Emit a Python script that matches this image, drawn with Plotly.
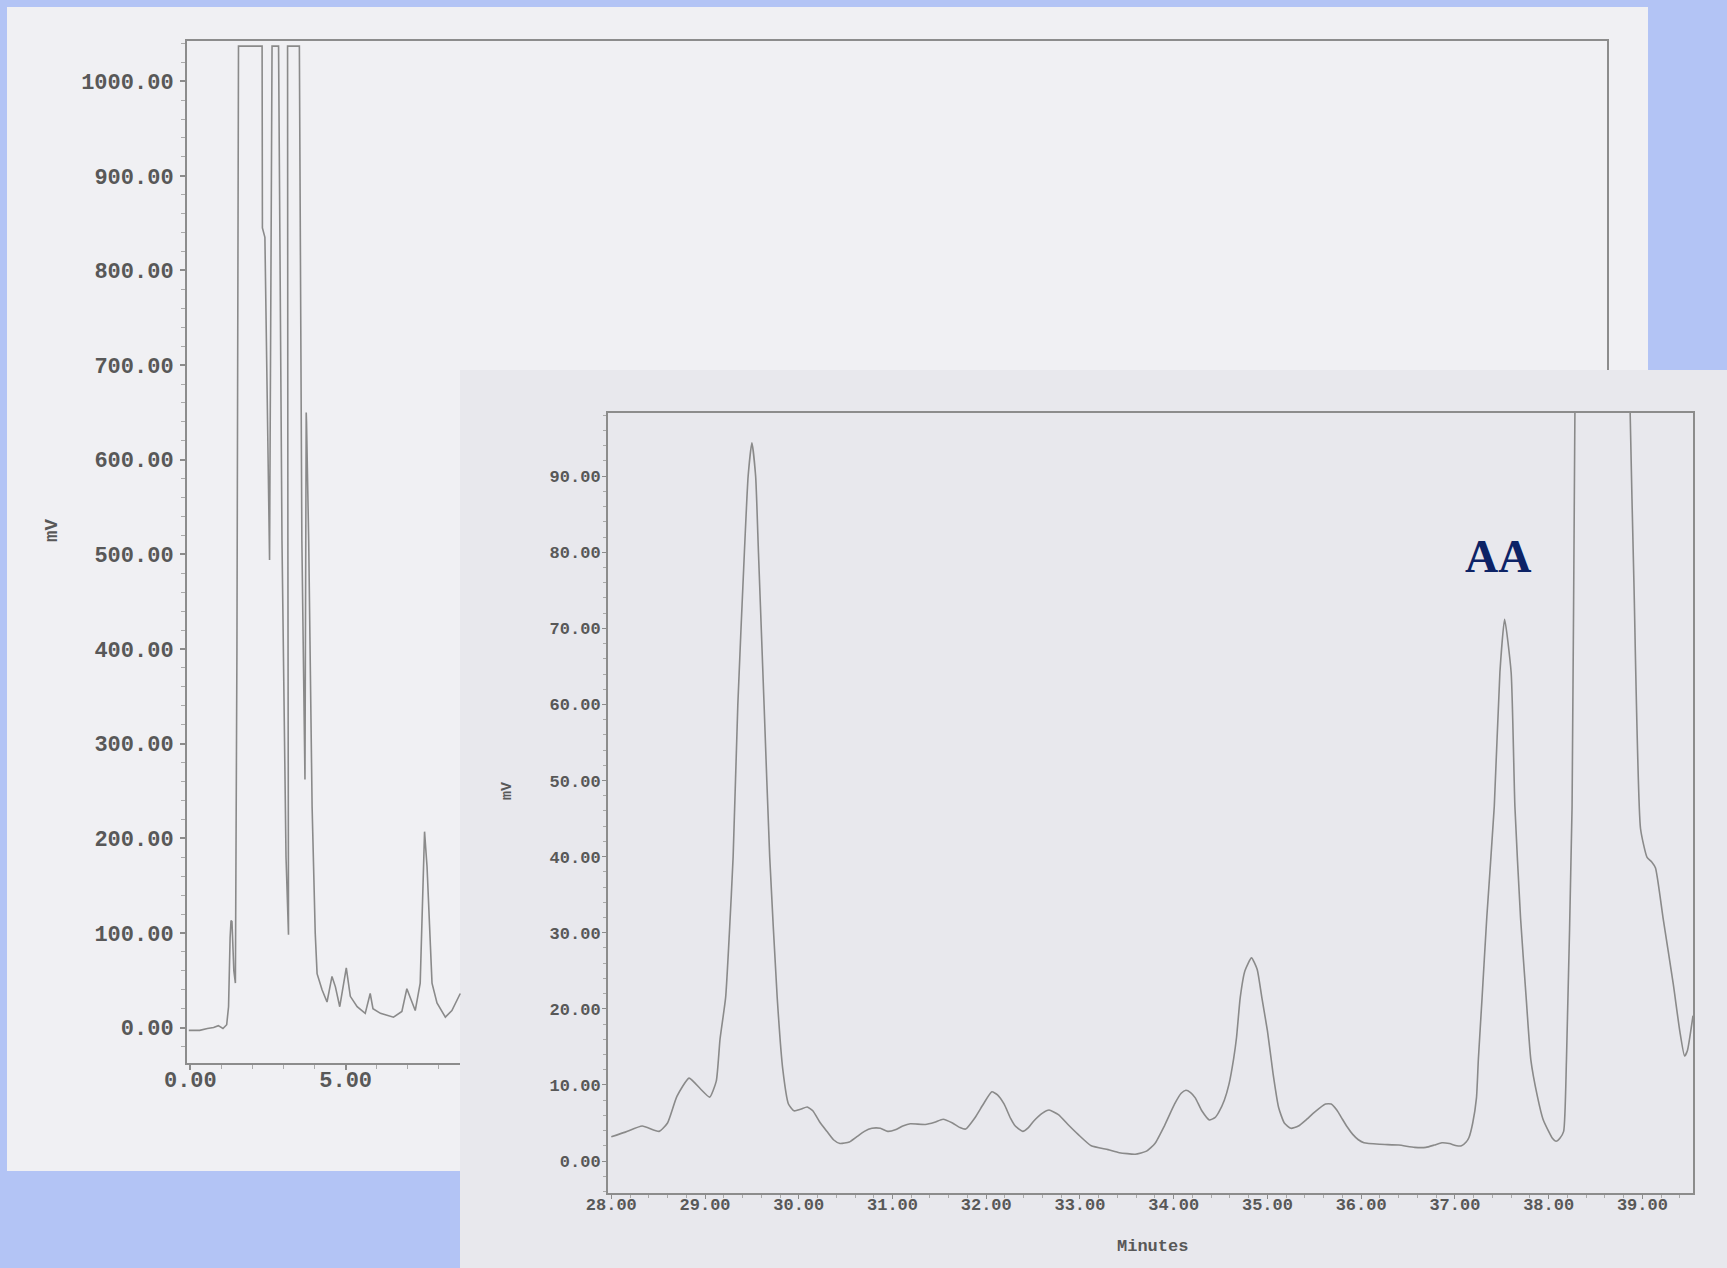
import plotly.graph_objects as go

W, H = 1727, 1268

# ---------------- data ----------------
# Full-run chromatogram (left sheet), visible part only (0 - 8.7 min), mV
left_time = [-0.05, 0.30, 0.55, 0.75, 0.90, 1.05, 1.17, 1.23, 1.28, 1.31, 1.34, 1.40, 1.45,
             1.50, 1.55, 2.31, 2.32, 2.40, 2.55, 2.60, 2.63, 2.84, 2.95, 3.08, 3.16, 3.14,
             3.13, 3.51, 3.59, 3.69, 3.73, 3.74, 3.81, 3.92, 4.02, 4.08, 4.24, 4.40, 4.56,
             4.67, 4.81, 5.02, 5.15, 5.37, 5.63, 5.79, 5.88, 6.12, 6.54, 6.81, 6.97, 7.13,
             7.24, 7.40, 7.54, 7.62, 7.78, 7.94, 8.21, 8.42, 8.69]
left_mv = [-3, -3, -1, 0, 2, -1, 3, 22, 95, 113, 112, 60, 47,
           400, 1037, 1037, 845, 835, 494, 800, 1037, 1037, 515, 180, 98, 520,
           1037, 1037, 515, 262, 650, 640, 515, 233, 100, 57, 40, 27, 54,
           43, 22, 63, 33, 22, 15, 36, 20, 15, 11, 17, 41, 26,
           18, 47, 207, 170, 47, 26, 11, 18, 36]

# Expanded chromatogram (front sheet), 28 - 39.5 min, mV
right_time = [28.00, 28.15, 28.33, 28.51, 28.60, 28.70, 28.83, 28.95, 29.05, 29.12, 29.16,
              29.22, 29.26, 29.30, 29.35, 29.42, 29.46, 29.50, 29.54, 29.57, 29.63, 29.69,
              29.77, 29.83, 29.89, 29.95, 30.02, 30.09, 30.15, 30.22, 30.30, 30.37, 30.44,
              30.54, 30.62, 30.70, 30.78, 30.87, 30.95, 31.03, 31.11, 31.19, 31.35, 31.45,
              31.54, 31.64, 31.72, 31.78, 31.88, 31.97, 32.06, 32.12, 32.19, 32.26, 32.31,
              32.39, 32.45, 32.51, 32.60, 32.67, 32.77, 32.88, 32.98, 33.12, 33.30, 33.42,
              33.59, 33.71, 33.80, 33.90, 34.01, 34.08, 34.13, 34.18, 34.23, 34.30, 34.38,
              34.44, 34.48, 34.54, 34.59, 34.64, 34.67, 34.71, 34.76, 34.83, 34.89, 34.94,
              35.00, 35.06, 35.12, 35.18, 35.25, 35.33, 35.42, 35.50, 35.62, 35.68, 35.74,
              35.79, 35.85, 35.91, 35.97, 36.03, 36.20, 36.40, 36.57, 36.69, 36.78, 36.86,
              36.94, 37.02, 37.07, 37.12, 37.15, 37.19, 37.23, 37.25, 37.29, 37.34, 37.42,
              37.48, 37.53, 37.60, 37.64, 37.70, 37.76, 37.81, 37.88, 37.94, 38.00, 38.04,
              38.08, 38.12, 38.16, 38.19, 38.25, 38.28, 38.32, 38.60, 38.84, 38.87, 38.91,
              38.98, 39.05, 39.10, 39.14, 39.22, 39.33, 39.40, 39.45, 39.48, 39.54]
right_mv = [3.2, 3.8, 4.6, 3.9, 5.0, 8.5, 10.9, 9.5, 8.4, 10.5, 16.0,
            21.5, 30.0, 40.0, 60.0, 80.0, 90.0, 94.4, 90.0, 80.0, 60.0, 40.0,
            21.5, 12.0, 7.5, 6.6, 6.8, 7.1, 6.6, 5.2, 3.9, 2.8, 2.3,
            2.5, 3.2, 3.9, 4.3, 4.3, 3.9, 4.1, 4.6, 4.9, 4.8, 5.1,
            5.5, 5.0, 4.4, 4.2, 5.7, 7.5, 9.1, 8.7, 7.5, 5.6, 4.6,
            3.9, 4.4, 5.3, 6.3, 6.7, 6.1, 4.7, 3.5, 2.0, 1.5, 1.1,
            0.9, 1.3, 2.3, 4.6, 7.5, 8.9, 9.3, 9.0, 8.3, 6.6, 5.4,
            5.7, 6.4, 8.0, 10.1, 13.5, 16.2, 21.5, 25.0, 26.7, 25.2, 21.5,
            17.1, 11.5, 7.0, 5.0, 4.3, 4.6, 5.5, 6.4, 7.5, 7.5, 6.7,
            5.7, 4.5, 3.5, 2.8, 2.4, 2.2, 2.1, 1.8, 1.8, 2.1, 2.4,
            2.3, 2.0, 2.0, 2.5, 3.1, 5.0, 8.3, 13.3, 21.5, 32.0, 46.6,
            64.2, 71.2, 64.2, 46.6, 32.0, 21.5, 13.3, 8.5, 5.5, 3.9, 3.0,
            2.6, 3.0, 3.9, 13.3, 46.6, 98.0, 130.0, 160.0, 130.0, 98.0, 75.9,
            43.7, 39.9, 39.3, 38.5, 32.0, 23.2, 17.0, 13.8, 14.5, 19.1]

left_xticks = [0, 5]
left_xticktext = ["0.00", "5.00"]
left_xminor = [1, 2, 3, 4, 6, 7, 8]
left_yticks = [0, 100, 200, 300, 400, 500, 600, 700, 800, 900, 1000]
right_xticks = [28, 29, 30, 31, 32, 33, 34, 35, 36, 37, 38, 39]
right_yticks = [0, 10, 20, 30, 40, 50, 60, 70, 80, 90]

# ---------------- style ----------------
BLUE = "#b3c4f5"
PAPER_L = "#f0f0f3"
PAPER_R = "#e8e8ed"
FRAME = "#8c8c8c"
TRACE = "#8a8a8a"
TXT = "#585858"
MONO = "Liberation Mono, Courier New, monospace"

fig = go.Figure()
fig.add_trace(go.Scatter(x=left_time, y=left_mv, mode="lines", xaxis="x", yaxis="y",
                         line=dict(color=TRACE, width=1.6), hoverinfo="skip", showlegend=False))
fig.add_trace(go.Scatter(x=right_time, y=right_mv, mode="lines", xaxis="x2", yaxis="y2",
                         line=dict(color=TRACE, width=1.6, shape="spline", smoothing=0.5),
                         hoverinfo="skip", showlegend=False))

def px(v):
    return v / W

def py(v):
    return 1 - v / H

tick_font_l = dict(family=MONO, size=22, color=TXT, weight="bold")
tick_font_r = dict(family=MONO, size=17, color=TXT, weight="bold")

fig.update_layout(
    width=W, height=H, margin=dict(l=0, r=0, t=0, b=0, pad=0, autoexpand=False),
    paper_bgcolor=BLUE, plot_bgcolor="rgba(0,0,0,0)",
    showlegend=False,
    xaxis=dict(domain=[px(186), px(1608)], range=[-0.14, 45.64], anchor="y", automargin=False,
               tickmode="array", tickvals=left_xticks, ticktext=left_xticktext,
               ticks="outside", ticklen=5, tickwidth=1.5, tickcolor=FRAME,
               ticklabelstandoff=-9,
               minor=dict(tickmode="array", tickvals=left_xminor, ticks="outside",
                          ticklen=4, tickwidth=1.2, tickcolor="#aaaaaa"),
               showline=False, showgrid=False, zeroline=False, tickfont=tick_font_l),
    yaxis=dict(domain=[py(1064), py(40)], range=[-38.5, 1043.5], anchor="x", automargin=False,
               tickmode="array", tickvals=left_yticks, tickformat=".2f",
               ticks="outside", ticklen=5, tickwidth=1.5, tickcolor=FRAME,
               ticklabelstandoff=2,
               minor=dict(dtick=20, tick0=0, ticks="outside", ticklen=4, tickwidth=1.2,
                          tickcolor="#aaaaaa"),
               showline=False, showgrid=False, zeroline=False, tickfont=tick_font_l),
    xaxis2=dict(domain=[px(608), px(1693)], range=[27.965, 39.54], anchor="y2", automargin=False,
                tickmode="array", tickvals=right_xticks, tickformat=".2f",
                ticks="outside", ticklen=4, tickwidth=1.2, tickcolor=FRAME,
                ticklabelstandoff=-9,
                minor=dict(dtick=0.2, tick0=28, ticks="outside", ticklen=3, tickwidth=1,
                           tickcolor="#aaaaaa"),
                showline=True, mirror=True, linecolor=FRAME, linewidth=2,
                showgrid=False, zeroline=False, tickfont=tick_font_r),
    yaxis2=dict(domain=[py(1193), py(413)], range=[-4.2, 98.3], anchor="x2", automargin=False,
                tickmode="array", tickvals=right_yticks, tickformat=".2f",
                ticks="outside", ticklen=4, tickwidth=1.2, tickcolor=FRAME,
                ticklabelstandoff=-2,
                minor=dict(dtick=2, tick0=0, ticks="outside", ticklen=3, tickwidth=1,
                           tickcolor="#aaaaaa"),
                showline=True, mirror=True, linecolor=FRAME, linewidth=2,
                showgrid=False, zeroline=False, tickfont=tick_font_r),
)

shapes = [
    # back sheet
    dict(type="rect", xref="paper", yref="paper", x0=px(7), x1=px(1648), y0=py(1171), y1=py(7),
         fillcolor=PAPER_L, line=dict(width=0), layer="below"),
    # back sheet plot frame
    dict(type="rect", xref="x domain", yref="y domain", x0=0, x1=1, y0=0, y1=1,
         line=dict(color=FRAME, width=2), fillcolor="rgba(0,0,0,0)", layer="below"),
    # front sheet
    dict(type="rect", xref="paper", yref="paper", x0=px(460), x1=1, y0=0, y1=py(370),
         fillcolor=PAPER_R, line=dict(width=0), layer="below"),
]
fig.update_layout(shapes=shapes)

annotations = [
    dict(text="mV", xref="paper", yref="paper", x=px(52), y=py(531), showarrow=False,
         xanchor="center", yanchor="middle",
         textangle=-90, font=dict(family=MONO, size=19, color=TXT, weight="bold")),
    dict(text="mV", xref="paper", yref="paper", x=px(507), y=py(791), showarrow=False,
         xanchor="center", yanchor="middle",
         textangle=-90, font=dict(family=MONO, size=15, color=TXT, weight="bold")),
    dict(text="Minutes", xref="paper", yref="paper", x=px(1152), y=py(1246), showarrow=False,
         xanchor="center", yanchor="middle",
         font=dict(family=MONO, size=17, color=TXT, weight="bold")),
    dict(text="AA", xref="x2", yref="y2", x=37.46, y=79.5, showarrow=False,
         xanchor="center", yanchor="middle",
         font=dict(family="Liberation Serif, Times New Roman, serif", size=46,
                   color="#0d2366", weight="bold")),
]
fig.update_layout(annotations=annotations)

fig.write_html("out.html")
